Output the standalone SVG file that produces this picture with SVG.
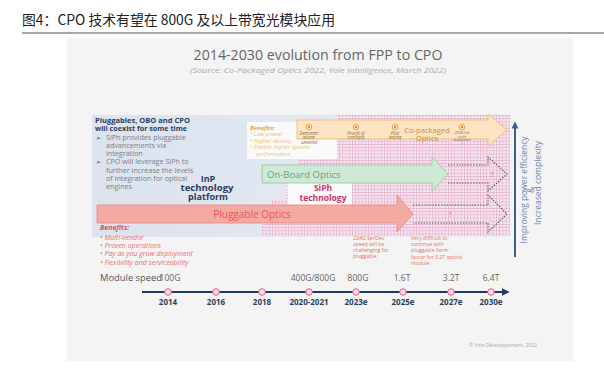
<svg xmlns="http://www.w3.org/2000/svg" width="604" height="368" viewBox="0 0 604 368">
<defs>
<style>
.t{font-family:"Open Sans","Liberation Sans",sans-serif}
.hdr{font-family:"Noto Sans CJK SC","Noto Sans",sans-serif;font-size:14px;fill:#222}
.nav{fill:#2b3d5c;font-weight:bold}
.gr{fill:#7a7f88}
.bo{fill:#f0c07a;font-style:italic}
.br{fill:#e87070;font-style:italic}
.note{fill:#e8705a;font-size:5.2px}
.ms{fill:#8a6a40;font-size:4.4px;text-anchor:middle;font-style:italic}
.ms2{fill:#8a6a40;font-size:3.6px;text-anchor:middle;font-style:italic}
.yr{fill:#2a3f5f;font-weight:bold;font-size:8px;text-anchor:middle}
.sp{fill:#666;font-size:8.5px;text-anchor:middle}
.dot{fill:#fbd6e0;stroke:#e0668e;stroke-width:1}
.mc{fill:#fde5c4;stroke:#e8962e;stroke-width:0.8}
.dash{fill:none;stroke:#555;stroke-width:1.1;stroke-dasharray:1.4 1.4}
</style>
<pattern id="grid" width="3.2" height="3.2" patternUnits="userSpaceOnUse">
<rect width="3.2" height="3.2" fill="#f7e4ee"/>
<path d="M0 0H3.2M0 0V3.2" stroke="#db92bf" stroke-width="0.8"/>
</pattern>
<linearGradient id="blue" x1="0" y1="0" x2="1" y2="0">
<stop offset="0" stop-color="#dce3ee"/>
<stop offset="1" stop-color="#e9edf4"/>
</linearGradient>
<marker id="ah" viewBox="0 0 10 10" refX="8" refY="5" markerWidth="4" markerHeight="4" orient="auto">
<path d="M0 0L10 5L0 10z" fill="#1f3a5f"/>
</marker>
<marker id="ahb" viewBox="0 0 10 10" refX="8" refY="5" markerWidth="3.5" markerHeight="3.5" orient="auto">
<path d="M0 0L10 5L0 10z" fill="#3d5f8f"/>
</marker>
</defs>

<rect width="604" height="368" fill="#ffffff"/>
<text class="hdr" x="22" y="25" textLength="313" lengthAdjust="spacingAndGlyphs">图4：CPO 技术有望在 800G 及以上带宽光模块应用</text>
<line x1="22" y1="33" x2="604" y2="33" stroke="#8a8a8a" stroke-width="1.5"/>
<rect x="67" y="38" width="506" height="323" fill="#f4f4f4"/>

<text class="t" x="318" y="60" font-size="14" fill="#666" text-anchor="middle" textLength="249" lengthAdjust="spacingAndGlyphs">2014-2030 evolution from FPP to CPO</text>
<text class="t" x="318" y="73" font-size="7.5" fill="#aaa" font-style="italic" text-anchor="middle" textLength="256" lengthAdjust="spacingAndGlyphs">(Source: Co-Packaged Optics 2022, Yole Intelligence, March 2022)</text>

<g id="background">
<rect x="92" y="115" width="418" height="122" fill="url(#blue)"/>
<polygon points="337,115 510,115 510,236 262,236 262,224 272,224 272,200 286,200 286,184 298,184 298,160 318,160 318,152 337,152" fill="url(#grid)"/>
<rect x="247" y="122" width="90" height="37" fill="#fafafa"/>
<rect x="288" y="181" width="64" height="24" fill="#fafafa"/>
</g>

<g id="intro" class="t" font-size="7.2">
<text class="nav" x="95" y="122.5" textLength="95" lengthAdjust="spacingAndGlyphs">Pluggables, OBO and CPO</text>
<text class="nav" x="95" y="131">will coexist for some time</text>
<text x="96" y="139.5" font-family="DejaVu Sans" font-size="6" fill="#2b3d5c">➢</text>
<text class="gr" x="106" y="139.5">SiPh provides pluggable</text>
<text class="gr" x="106" y="147.5">advancements via</text>
<text class="gr" x="106" y="156">integration</text>
<text x="96" y="164" font-family="DejaVu Sans" font-size="6" fill="#2b3d5c">➢</text>
<text class="gr" x="106" y="164">CPO will leverage SiPh to</text>
<text class="gr" x="106" y="172.5">further increase the levels</text>
<text class="gr" x="106" y="180.5">of integration for optical</text>
<text class="gr" x="106" y="189">engines</text>
</g>

<g id="inp" class="t nav" font-size="9" text-anchor="middle">
<text x="208" y="182">InP</text>
<text x="207" y="191" textLength="53" lengthAdjust="spacingAndGlyphs">technology</text>
<text x="208" y="200">platform</text>
</g>

<g id="cpo-benefits" class="t" font-size="6">
<text x="250" y="129.5" fill="#e8a23c" font-weight="bold" font-style="italic">Benefits:</text>
<text class="bo" x="250" y="136">• Low-power</text>
<text class="bo" x="250" y="142.5">• Higher density</text>
<text class="bo" x="250" y="149">• Enable higher system</text>
<text class="bo" x="256" y="155.5">performance</text>
</g>

<g id="siph" class="t" font-size="8.5" font-weight="bold" fill="#c8336a" text-anchor="middle">
<text x="323" y="191">SiPh</text>
<text x="323" y="201">technology</text>
</g>

<g id="connectors">
<polyline class="dash" points="448,165 488,165 488,157 507,174 488,191 488,183 448,183"/>
<polyline class="dash" points="413,205 488,205 488,195 507,214 488,232 488,223 413,223"/>
<line x1="142" y1="292" x2="508" y2="292" stroke="#1f3a5f" stroke-width="2" marker-end="url(#ah)"/>
<line x1="515" y1="257" x2="515" y2="123" stroke="#3d5f8f" stroke-width="2" marker-end="url(#ahb)"/>
</g>

<g id="pluggable">
<polygon points="97,205 397,205 397,195 413,214 397,232 397,223 97,223" fill="#f3aaa2" stroke="#e9857a" stroke-width="0.8"/>
<text class="t" x="252" y="217.5" font-size="10" fill="#e05a5a" text-anchor="middle">Pluggable Optics</text>
<text class="t" x="450" y="217" font-size="7" fill="#c98070" text-anchor="middle">?</text>
</g>

<g id="obo">
<polygon points="262,165 432,165 432,157 448,174 432,191 432,183 262,183" fill="#cfe9d6" stroke="#8cc9a0" stroke-width="0.8"/>
<text class="t" x="267" y="177.5" font-size="9.5" fill="#5ca877">On-Board Optics</text>
<text class="t" x="492" y="177" font-size="7" fill="#c98070" text-anchor="middle">?</text>
</g>

<g id="cpo">
<polygon points="297,120 488,120 488,114 507,130 488,146 488,139 297,139" fill="#fde5c4" stroke="#f2b36b" stroke-width="0.8"/>
<text class="t" x="427" y="132.5" font-size="7.6" fill="#c88a3a" text-anchor="middle">Co-packaged</text>
<text class="t" x="427" y="141" font-size="7.6" fill="#c88a3a" text-anchor="middle">Optics</text>
<circle class="mc" cx="309" cy="127" r="2.8"/><circle cx="309" cy="127" r="1.2" fill="#e08a2a"/>
<circle class="mc" cx="356" cy="127" r="2.8"/><circle cx="356" cy="127" r="1.2" fill="#e08a2a"/>
<circle class="mc" cx="395" cy="127" r="2.8"/><circle cx="395" cy="127" r="1.2" fill="#e08a2a"/>
<circle class="mc" cx="462" cy="127" r="2.8"/><circle cx="462" cy="127" r="1.2" fill="#e08a2a"/>
<g class="t">
<text class="ms" x="309" y="134.5">Demonstr</text>
<text class="ms" x="309" y="139">ations</text>
<text class="ms" x="309" y="143.5">unveiled</text>
<text class="ms" x="356" y="134.5">Proofs of</text>
<text class="ms" x="356" y="139">concepts</text>
<text class="ms" x="395" y="134.5">Pilot</text>
<text class="ms" x="395" y="139">testing</text>
<text class="ms2" x="462" y="134">2028 Full</text>
<text class="ms2" x="462" y="137.6">scale</text>
<text class="ms2" x="462" y="141.2">deploymen</text>
<text class="ms2" x="462" y="144.8">t</text>
</g>
</g>

<g id="axis-label" class="t" font-size="8.5" fill="#6b86b0" text-anchor="middle">
<text transform="translate(527,190) rotate(-90)">Improving power efficiency</text>
<text transform="translate(534,190) rotate(-90)">&amp;</text>
<text transform="translate(541,183) rotate(-90)">Increased complexity</text>
</g>

<g id="pluggable-benefits" class="t" font-size="7">
<text x="100" y="229.5" fill="#d9534f" font-weight="bold" font-style="italic">Benefits:</text>
<text class="br" x="100" y="239.5">•  Multi-vendor</text>
<text class="br" x="100" y="247.5">•  Proven operations</text>
<text class="br" x="100" y="256">•  Pay as you grow deployment</text>
<text class="br" x="100" y="264.5">•  Flexibility and serviceability</text>
</g>

<g id="notes" class="t">
<text class="note" x="353" y="240">224G SerDes</text>
<text class="note" x="353" y="246">speed will be</text>
<text class="note" x="353" y="252">challenging for</text>
<text class="note" x="353" y="258">pluggable</text>
<text class="note" x="411" y="240">Very difficult to</text>
<text class="note" x="411" y="246.2">continue with</text>
<text class="note" x="411" y="252.4">pluggable form</text>
<text class="note" x="411" y="258.6">factor for 3.2T optical</text>
<text class="note" x="411" y="264.8">module</text>
</g>

<g id="timeline" class="t">
<text x="100" y="280.5" font-size="8.5" fill="#555" textLength="62" lengthAdjust="spacingAndGlyphs">Module speed</text>
<text class="sp" x="170" y="280.5">100G</text>
<text class="sp" x="313" y="280.5">400G/800G</text>
<text class="sp" x="358" y="280.5">800G</text>
<text class="sp" x="402" y="280.5">1.6T</text>
<text class="sp" x="451" y="280.5">3.2T</text>
<text class="sp" x="491" y="280.5">6.4T</text>
<circle class="dot" cx="168" cy="292" r="3.3"/>
<circle class="dot" cx="216" cy="292" r="3.3"/>
<circle class="dot" cx="262" cy="292" r="3.3"/>
<circle class="dot" cx="309" cy="292" r="3.3"/>
<circle class="dot" cx="356" cy="292" r="3.3"/>
<circle class="dot" cx="403" cy="292" r="3.3"/>
<circle class="dot" cx="451" cy="292" r="3.3"/>
<circle class="dot" cx="491" cy="292" r="3.3"/>
<text class="yr" x="168" y="304.5">2014</text>
<text class="yr" x="216" y="304.5">2016</text>
<text class="yr" x="262" y="304.5">2018</text>
<text class="yr" x="309" y="304.5">2020-2021</text>
<text class="yr" x="356" y="304.5">2023e</text>
<text class="yr" x="403" y="304.5">2025e</text>
<text class="yr" x="451" y="304.5">2027e</text>
<text class="yr" x="491" y="304.5">2030e</text>
</g>

<text class="t" x="537" y="347" font-size="5" fill="#aaa" text-anchor="end">© Yole Développement, 2022</text>
</svg>
